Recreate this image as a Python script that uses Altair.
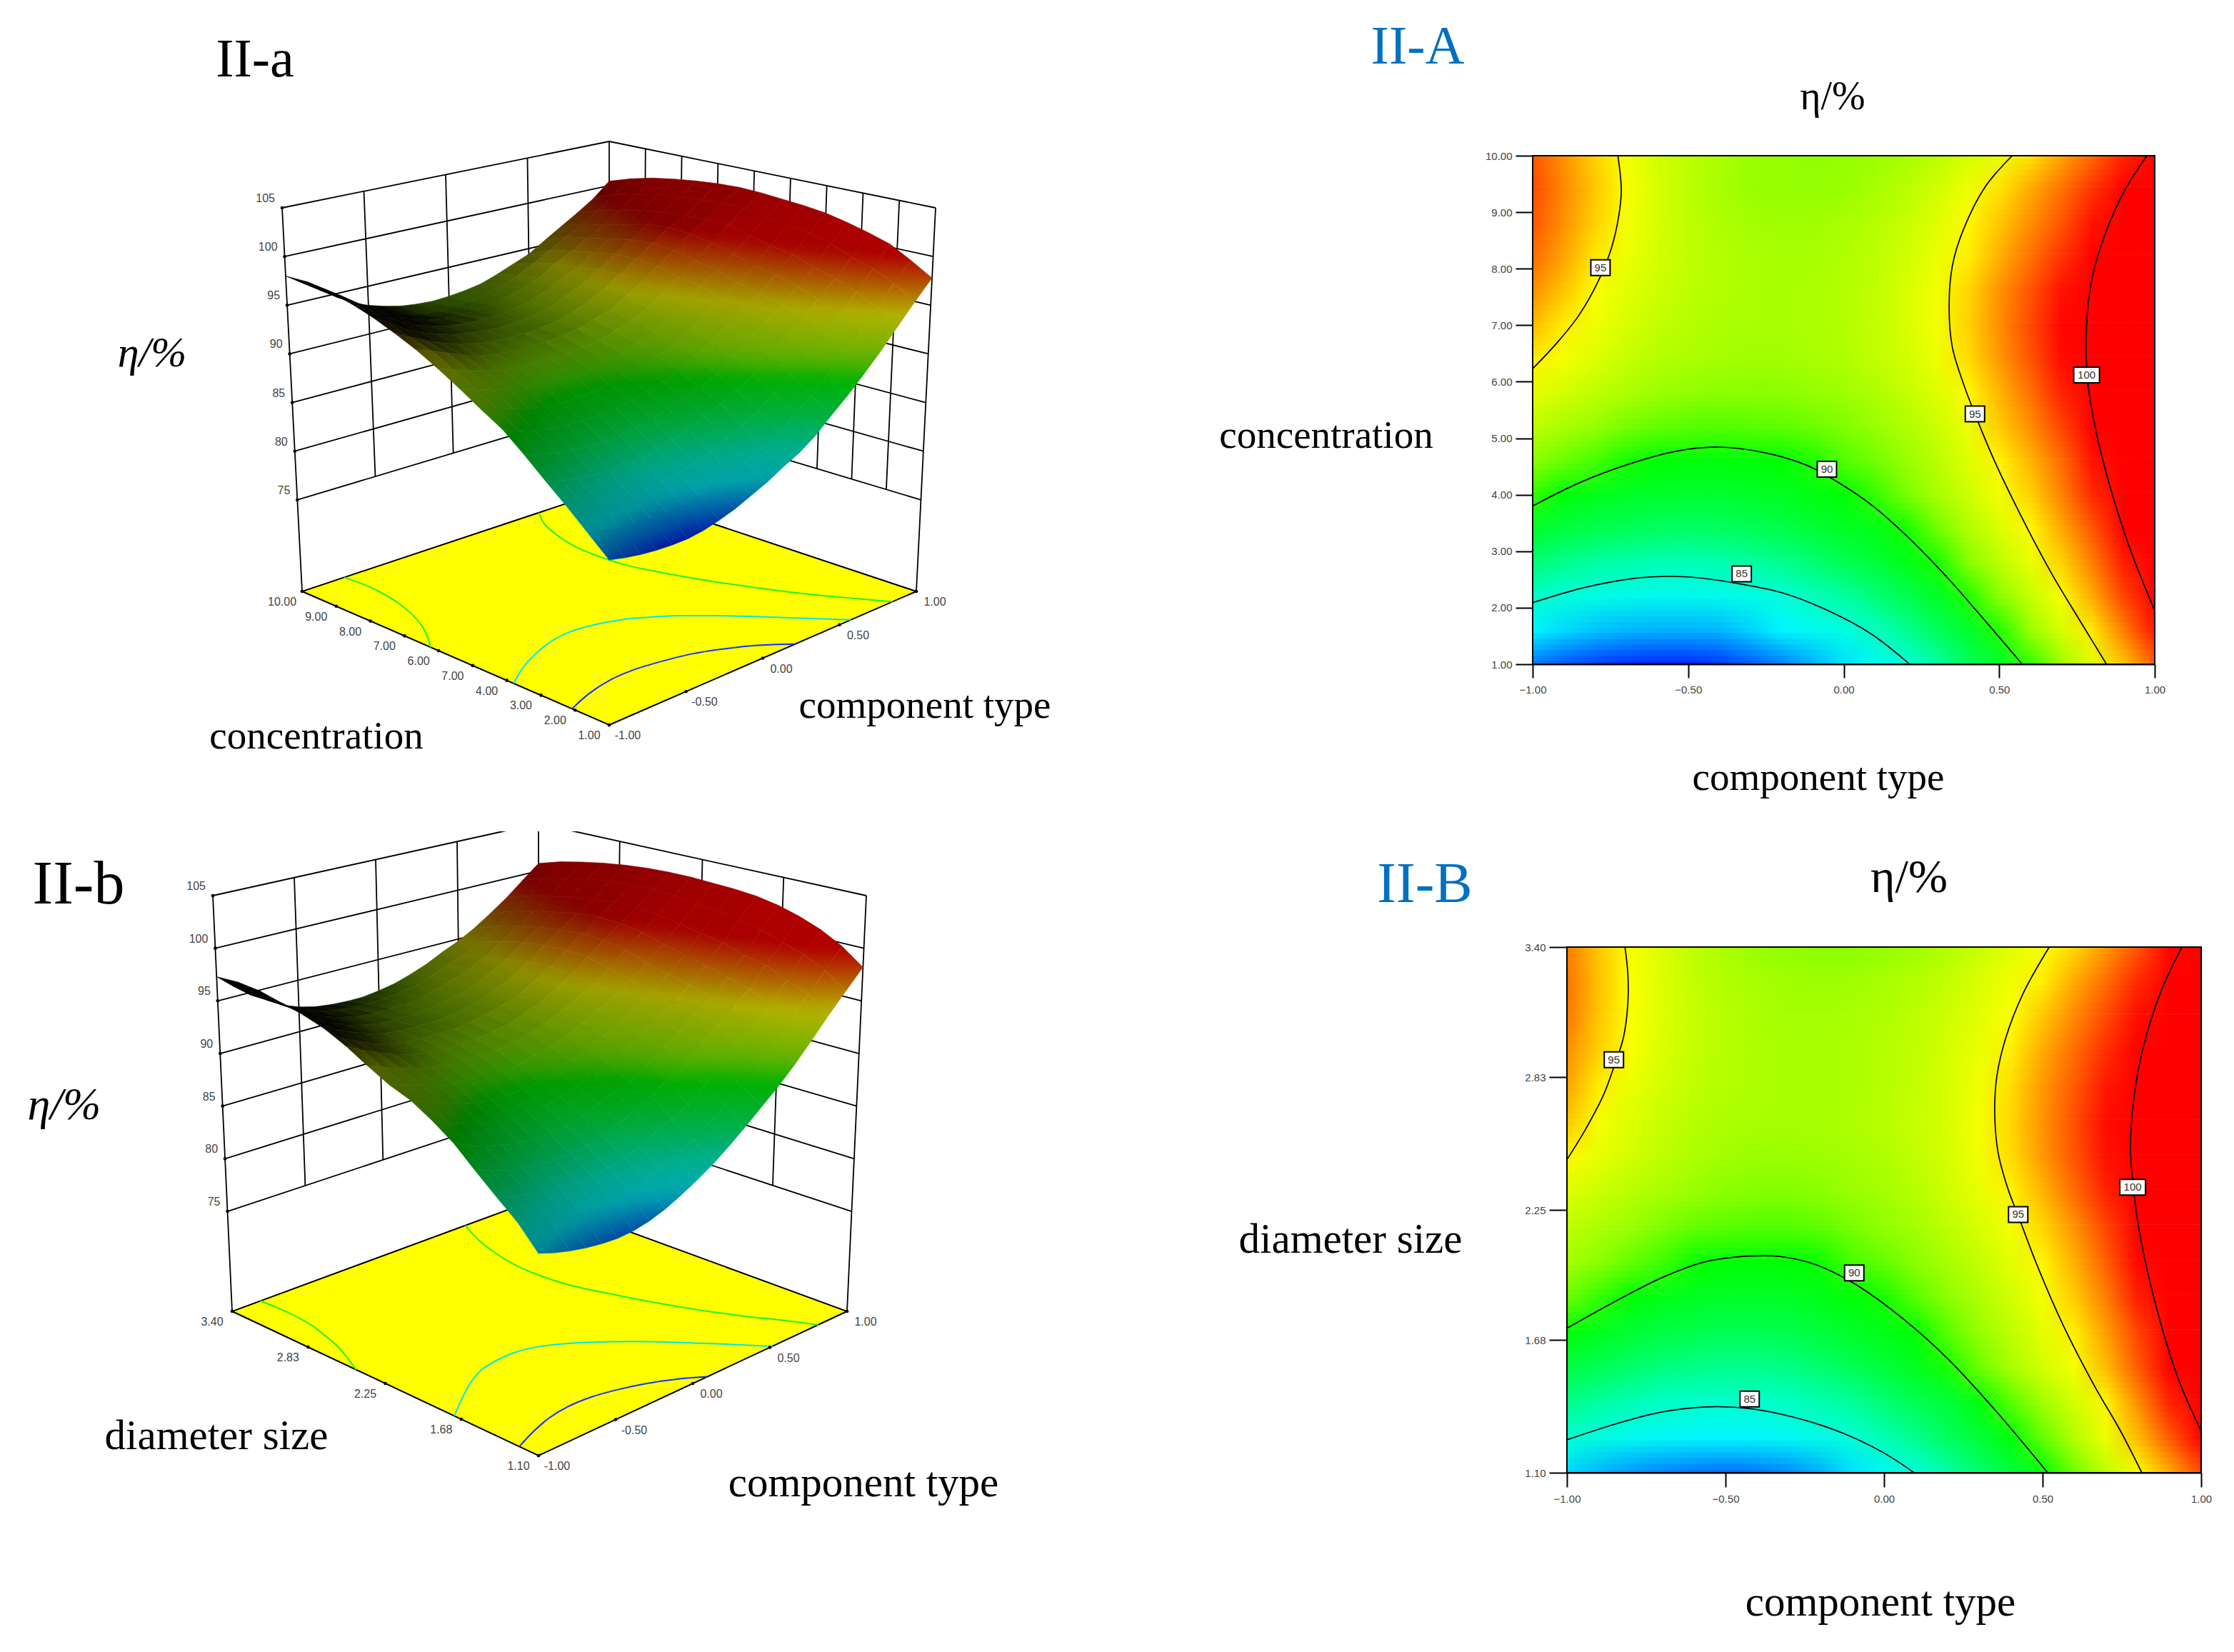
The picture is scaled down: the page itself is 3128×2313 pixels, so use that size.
import altair as alt
import numpy as np
import pandas as pd

W, H = 3112, 2297
SERIF = "Liberation Serif"
SANS = "Liberation Sans"

X_VALUES = [round(-1 + 0.1 * i, 1) for i in range(21)]

ETA_A = [
 [81.7,81.3,81.0,80.8,80.7,80.7,80.9,81.3,81.8,82.5,83.2,84.1,84.9,86.0,87.5,88.9,90.5,92.2,94.1,96.0,97.8],
 [83.5,83.1,82.8,82.6,82.5,82.5,82.6,83.0,83.5,84.1,84.5,85.4,86.4,87.5,88.8,90.3,92.0,93.7,95.4,97.3,99.1],
 [85.3,84.9,84.5,84.3,84.1,84.1,84.2,84.5,84.9,85.5,86.1,86.9,87.8,89.0,90.3,91.7,93.2,94.8,96.5,98.3,100.3],
 [87.0,86.5,86.1,85.9,85.7,85.7,85.8,86.1,86.5,87.0,87.7,88.4,89.3,90.2,91.6,92.9,94.3,95.8,97.3,99.0,101.0],
 [88.8,88.3,87.9,87.6,87.4,87.3,87.4,87.6,88.0,88.5,89.0,89.4,90.2,91.3,92.6,93.9,95.1,96.5,98.0,99.9,101.6],
 [90.5,89.8,89.3,89.0,88.8,88.7,88.7,88.9,89.1,89.5,89.9,90.5,91.4,92.4,93.5,94.6,95.8,97.2,98.8,100.5,102.1],
 [91.7,91.2,90.7,90.2,89.9,89.7,89.7,89.8,90.0,90.3,90.8,91.3,92.0,92.9,94.0,95.2,96.3,97.6,99.2,100.9,102.4],
 [93.0,92.4,91.9,91.4,91.1,90.9,90.8,90.9,91.0,91.2,91.5,92.0,92.6,93.4,94.5,95.9,97.0,98.3,99.7,101.2,102.6],
 [94.2,93.6,93.0,92.5,92.1,91.8,91.7,91.7,91.7,91.9,92.1,92.6,93.2,94.0,95.1,96.3,97.5,98.9,100.3,101.6,102.8],
 [95.3,94.7,94.0,93.3,92.8,92.5,92.3,92.2,92.2,92.4,92.6,93.1,93.6,94.5,95.6,96.8,98.0,99.3,100.4,101.7,102.9],
 [96.2,95.3,94.5,93.8,93.2,92.8,92.5,92.4,92.4,92.5,92.7,93.2,93.8,94.7,95.8,97.0,98.2,99.4,100.2,101.5,102.8],
 [97.0,96.0,94.9,94.1,93.5,93.0,92.7,92.5,92.4,92.5,92.7,93.1,93.8,94.6,95.7,96.9,98.0,99.2,100.1,101.3,102.6],
 [97.6,96.6,95.4,94.5,93.7,93.1,92.7,92.5,92.4,92.4,92.6,93.0,93.6,94.4,95.3,96.4,97.5,98.6,99.7,101.0,102.3],
 [98.0,96.9,95.8,94.7,93.8,93.1,92.6,92.3,92.2,92.2,92.4,92.8,93.3,94.0,95.1,96.0,97.0,98.0,99.2,100.5,101.9],
 [98.2,97.1,96.0,94.8,93.8,93.0,92.4,92.0,91.9,91.9,92.0,92.4,92.9,93.6,94.5,95.5,96.5,97.5,98.6,100.0,101.3],
 [98.0,96.9,95.8,94.7,93.7,93.0,92.5,92.1,91.9,91.8,91.9,92.1,92.4,93.0,93.7,94.4,95.5,96.6,97.7,98.9,100.5],
]
ETA_B = [
 [83.1,82.6,82.2,81.9,81.7,81.6,81.7,82.0,82.5,83.2,84.0,84.9,86.0,87.2,88.5,89.8,91.3,93.0,94.8,96.5,98.2],
 [85.1,84.6,84.1,83.8,83.6,83.5,83.6,83.9,84.4,85.0,85.7,86.5,87.4,88.5,89.7,91.1,92.7,94.4,96.2,97.9,99.7],
 [86.6,86.1,85.7,85.4,85.2,85.2,85.2,85.4,85.8,86.2,87.0,87.7,88.5,89.7,90.9,92.2,93.6,95.2,97.0,98.9,100.8],
 [88.2,87.7,87.2,86.8,86.6,86.5,86.5,86.7,87.1,87.7,88.4,89.2,90.2,91.2,92.4,93.6,94.7,96.2,97.9,99.6,101.6],
 [89.9,89.2,88.6,88.2,87.9,87.7,87.7,87.9,88.3,88.9,89.4,89.9,90.9,91.9,93.0,94.2,95.3,96.7,98.3,100.3,102.2],
 [91.2,90.5,89.9,89.4,89.1,88.9,88.9,89.0,89.4,89.8,90.2,90.9,91.7,92.6,93.6,94.7,95.9,97.3,99.0,100.8,102.6],
 [92.3,91.7,91.1,90.6,90.1,89.9,89.8,89.9,90.1,90.7,91.1,91.7,92.4,93.2,94.2,95.2,96.4,97.8,99.4,101.1,102.8],
 [93.0,92.5,92.0,91.5,91.1,90.9,90.8,90.8,91.0,91.4,91.8,92.3,93.0,93.8,94.7,95.7,96.9,98.3,99.8,101.3,102.9],
 [94.0,93.4,92.9,92.4,92.0,91.7,91.6,91.6,91.7,92.0,92.3,92.8,93.5,94.3,95.2,96.3,97.6,98.9,100.2,101.6,103.0],
 [95.1,94.3,93.6,93.0,92.5,92.2,92.0,92.0,92.1,92.3,92.6,93.1,93.7,94.6,95.6,96.8,98.0,99.2,100.3,101.7,103.0],
 [96.0,94.7,94.0,93.3,92.8,92.5,92.4,92.4,92.4,92.6,92.9,93.3,93.8,94.7,95.7,96.9,98.1,99.3,100.4,101.7,102.9],
 [96.6,95.3,94.4,93.7,93.1,92.7,92.5,92.4,92.4,92.5,92.8,93.2,93.8,94.6,95.6,96.8,97.9,99.1,100.0,101.5,102.7],
 [97.0,95.8,94.8,93.9,93.2,92.8,92.5,92.4,92.4,92.5,92.8,93.1,93.7,94.4,95.3,96.5,97.6,98.7,99.8,101.2,102.4],
 [97.4,96.0,94.9,94.0,93.3,92.8,92.5,92.3,92.3,92.4,92.6,93.0,93.5,94.1,94.9,96.0,97.1,98.2,99.3,100.7,102.0],
 [97.5,96.1,94.9,94.0,93.2,92.7,92.4,92.2,92.1,92.2,92.4,92.7,93.2,93.9,94.5,95.3,96.5,97.6,98.8,100.2,101.5],
 [97.3,96.0,94.8,93.9,93.0,92.4,92.0,91.8,91.7,91.7,91.9,92.2,92.7,93.3,94.1,94.8,95.7,96.8,98.0,99.4,100.8],
]
Y_A = [round(1 + 0.6 * i, 3) for i in range(16)]
Y_B = [round(1.1 + 2.3 * i / 15, 3) for i in range(16)]

# contour lines, (component type, factor) pairs
CONT_A = {
 "85": [(-1,2.09),(-.824,2.37),(-.656,2.53),(-.501,2.545),(-.332,2.42),(-.192,2.255),(-.051,1.95),(.089,1.534),(.212,1)],
 "90": [(-1,3.8),(-.852,4.206),(-.698,4.528),(-.543,4.766),(-.403,4.843),(-.262,4.753),(-.122,4.528),(-.024,4.238),(.089,3.82),(.202,3.273),(.328,2.564),(.441,1.856),(.574,1)],
 "95a": [(-1,6.23),(-.923,6.68),(-.852,7.17),(-.789,7.78),(-.747,8.36),(-.723,8.94),(-.715,9.39),(-.726,10)],
 "95b": [(.542,10),(.455,9.45),(.384,8.68),(.349,8.04),(.339,7.33),(.349,6.62),(.384,5.98),(.424,5.4),(.483,4.62),(.567,3.66),(.666,2.63),(.764,1.73),(.845,1)],
 "100": [(.975,10),(.904,9.39),(.841,8.62),(.799,7.84),(.781,7.01),(.785,5.98),(.813,5.08),(.855,4.17),(.918,3.08),(1,1.95)],
}
CONT_B = {
 "85": [(-1,1.244),(-.843,1.315),(-.703,1.365),(-.564,1.388),(-.424,1.381),(-.285,1.343),(-.146,1.282),(-.006,1.191),(.095,1.1)],
 "90": [(-1,1.732),(-.843,1.853),(-.703,1.952),(-.564,2.023),(-.424,2.048),(-.327,2.046),(-.215,2.01),(-.09,1.924),(.063,1.77),(.203,1.596),(.356,1.365),(.516,1.1)],
 "95a": [(-1,2.47),(-.94,2.606),(-.884,2.755),(-.849,2.887),(-.822,3.003),(-.808,3.152),(-.808,3.284),(-.817,3.4)],
 "95b": [(.521,3.4),(.44,3.201),(.384,3.003),(.356,2.837),(.349,2.688),(.359,2.506),(.391,2.341),(.423,2.225),(.482,2.01),(.565,1.745),(.663,1.481),(.746,1.282),(.813,1.1)],
 "100": [(.939,3.4),(.872,3.201),(.816,2.953),(.788,2.738),(.777,2.523),(.788,2.325),(.809,2.126),(.858,1.828),(.927,1.514),(1,1.282)],
}
LABELS_A = [("95",-.782,8.02),("95",.422,5.43),("100",.781,6.12),("90",-.054,4.45),("85",-.328,2.60)]
LABELS_B = [("95",-.852,2.907),("95",.423,2.23),("100",.784,2.349),("90",-.094,1.974),("85",-.424,1.423)]

X_TICKS = [-1, -.5, 0, .5, 1]
X_TEXT = ["-1.00", "-0.50", "0.00", "0.50", "1.00"]
Y_TICKS_A = [1, 2, 3, 4, 5, 6, 7, 8, 9, 10]
Y_TEXT_A = ["1.00", "2.00", "3.00", "4.00", "7.00", "6.00", "7.00", "8.00", "9.00", "10.00"]
Y_TICKS_B = [1.1, 1.68, 2.25, 2.83, 3.4]
Y_TEXT_B = ["1.10", "1.68", "2.25", "2.83", "3.40"]
Z_TICKS = [75, 80, 85, 90, 95, 100, 105]

RAMP = [(80, (0, 0, 255)), (80.7, (0, 40, 255)), (81.7, (0, 120, 255)), (83.5, (0, 245, 255)),
        (85, (0, 255, 215)), (87.5, (0, 255, 90)), (90, (0, 255, 0)), (90.8, (80, 255, 0)),
        (91.8, (145, 255, 0)), (92.5, (172, 255, 0)), (95, (255, 255, 0)), (99.5, (255, 0, 0))]


def rgb(v):
    v = min(max(v, 80), 99.5)
    for (a, ca), (b, cb) in zip(RAMP, RAMP[1:]):
        if v <= b:
            t = (v - a) / (b - a)
            return tuple(ca[k] + t * (cb[k] - ca[k]) for k in range(3))
    return RAMP[-1][1]


def hexc(c, f=1.0):
    return "#%02x%02x%02x" % tuple(int(round(x * f)) for x in c)


def pix_scale_x():
    return alt.Scale(domain=[0, 3128], range=[-8, 3120], nice=False, zero=False)


def pix_scale_y():
    return alt.Scale(domain=[0, 2313], range=[-8, 2305], nice=False, zero=False)


def pxx(field, **kw):
    return alt.X(field, scale=pix_scale_x(), axis=None, **kw)


def pxy(field, **kw):
    return alt.Y(field, scale=pix_scale_y(), axis=None, **kw)


# ---------- 2-D maps ----------
def heat_panel(eta, ys, conts, labels, box, yticks, xtick, ytick):
    L, R, T, B = box
    ymin, ymax = ys[0], ys[-1]
    sx = lambda: alt.Scale(domain=[-1, 1], range=[L - 8, R - 8], nice=False, zero=False)
    sy = lambda: alt.Scale(domain=[ymin, ymax], range=[B - 8, T - 8], nice=False, zero=False)
    h = ys[1] - ys[0]
    layers = []
    PASSES = 6
    for k in range(PASSES):
        shift = h * ((k + 0.5) / PASSES - 0.5)
        rows = []
        for yv, row in zip(ys, eta):
            grad = {"gradient": "linear", "x1": 0, "y1": 0, "x2": 1, "y2": 0,
                    "stops": [{"offset": i / 20, "color": hexc(rgb(v))} for i, v in enumerate(row)]}
            rows.append({"a": -1, "b": 1, "c": max(ymin, yv + shift - h / 2),
                         "d": min(ymax, yv + shift + h / 2), "g": grad})
        layers.append(alt.Chart(alt.Data(values=rows)).mark_rect(opacity=1 / (k + 1)).encode(
            x=alt.X("a:Q", scale=sx(), axis=None), x2="b:Q",
            y=alt.Y("c:Q", scale=sy(), axis=None), y2="d:Q",
            fill=alt.Fill("g:N", scale=None, legend=None)))
    # axes + frame
    frame = pd.DataFrame({"a": [-1], "b": [1], "c": [ymin], "d": [ymax]})
    ax_x = alt.Axis(values=X_TICKS, format=".2f", title=None, grid=False, orient="bottom",
                    offset=(B - 8) - H, tickSize=xtick, tickWidth=2, tickColor="black", domainColor="black",
                    domainWidth=2, labelFont=SANS, labelFontSize=15, labelColor="#444444", labelPadding=9,
                    labelOverlap=False, labelFlush=False)
    ax_y = alt.Axis(values=yticks, format=".2f", title=None, grid=False, orient="left",
                    offset=-(L - 8), tickSize=ytick, tickWidth=2, tickColor="black", domainColor="black",
                    domainWidth=2, labelFont=SANS, labelFontSize=15, labelColor="#444444", labelPadding=5,
                    labelOverlap=False, labelFlush=False)
    layers.append(alt.Chart(frame).mark_rect(fillOpacity=0, stroke="black", strokeWidth=2).encode(
        x=alt.X("a:Q", scale=sx(), axis=ax_x), x2="b:Q",
        y=alt.Y("c:Q", scale=sy(), axis=ax_y), y2="d:Q"))
    # contours
    recs = []
    for name, pts in conts.items():
        for i, (a, b) in enumerate(pts):
            recs.append({"n": name, "i": i, "a": a, "b": b})
    layers.append(alt.Chart(pd.DataFrame(recs)).mark_line(
        color="black", strokeWidth=1.7, interpolate="catmull-rom").encode(
        x=alt.X("a:Q", scale=sx(), axis=None), y=alt.Y("b:Q", scale=sy(), axis=None),
        detail="n:N", order="i:Q"))
    # boxes
    for txt, a, b in labels:
        df = pd.DataFrame({"t": [txt], "a": [a], "b": [b]})
        layers.append(alt.Chart(df).mark_rect(
            width=36 if len(txt) == 3 else 27, height=22, fill="white", stroke="black", strokeWidth=2).encode(
            x=alt.X("a:Q", scale=sx(), axis=None), y=alt.Y("b:Q", scale=sy(), axis=None)))
        layers.append(alt.Chart(df).mark_text(font=SANS, fontSize=15, color="#333333", baseline="middle").encode(
            x=alt.X("a:Q", scale=sx(), axis=None), y=alt.Y("b:Q", scale=sy(), axis=None), text="t:N"))
    return layers


# ---------- 3-D views ----------
def surface_panel(eta, ys, conts, floor_c, top_c, z0, yticks, ytext, clip=None):
    ymin, ymax = ys[0], ys[-1]
    corners_f = {k: np.array(v, float) for k, v in floor_c.items()}
    corners_t = {k: np.array(v, float) for k, v in top_c.items()}

    def plane(c, s, t):
        # s: component type 0..1, t: factor 0..1
        return ((1 - s) * (1 - t) * c["front"] + s * (1 - t) * c["right"]
                + (1 - s) * t * c["left"] + s * t * c["back"])

    def pr(x, y, z):
        s, t = (x + 1) / 2, (y - ymin) / (ymax - ymin)
        f = (z - z0) / (105 - z0)
        q = (1 - f) * plane(corners_f, s, t) + f * plane(corners_t, s, t)
        return float(q[0]), float(q[1])

    layers = []
    seg = []

    def add(a, b):
        (x0, y0), (x1, y1) = pr(*a), pr(*b)
        seg.append({"a": x0, "b": y0, "c": x1, "d": y1})

    for z in Z_TICKS:
        add((-1, ymax, z), (1, ymax, z))
        add((1, ymax, z), (1, ymin, z))
    for x in (-.5, 0, .5):
        add((x, ymax, 75), (x, ymax, 105))
    for y in yticks[1:-1]:
        add((1, y, 75), (1, y, 105))
    add((-1, ymax, z0), (-1, ymax, 105))
    add((1, ymax, z0), (1, ymax, 105))
    add((1, ymin, z0), (1, ymin, 105))
    layers.append(alt.Chart(pd.DataFrame(seg)).mark_rule(color="black", strokeWidth=1.8).encode(
        x=pxx("a:Q"), y=pxy("b:Q"), x2="c:Q", y2="d:Q"))
    # floor
    tr = [-8, -8]
    fl = [pr(-1, ymin, z0), pr(1, ymin, z0), pr(1, ymax, z0), pr(-1, ymax, z0)]
    ring = [[float(a), float(b)] for a, b in fl + fl[:1]]
    floor = [{"type": "Feature", "properties": {}, "geometry": {"type": "Polygon", "coordinates": [ring]}}]
    layers.append(alt.Chart(alt.Data(values=floor)).mark_geoshape(
        fill="#ffff00", stroke="black", strokeWidth=2).project(type="identity", scale=1, translate=tr))
    # floor contours
    recs = []
    for name, pts in conts.items():
        if name == "100":
            continue
        col = {"85": "#1030ff", "90": "#00e6e6"}.get(name, "#20f020")
        for i, (a, b) in enumerate(pts):
            u, v = pr(a, b, z0)
            recs.append({"n": name, "i": i, "a": u, "b": v, "k": col})
    layers.append(alt.Chart(pd.DataFrame(recs)).mark_line(strokeWidth=2, interpolate="catmull-rom").encode(
        x=pxx("a:Q"), y=pxy("b:Q"), detail="n:N", order="i:Q", color=alt.Color("k:N", scale=None)))
    # surface, farthest cell first
    arr = np.array(eta)
    KX, KY, LW = 85 / 20, 85 / 15, 1.3
    P = np.array([[pr(X_VALUES[i], ys[j], arr[j, i]) for i in range(21)] for j in range(16)])
    lit_cell = np.zeros((15, 20))
    for j in range(15):
        for i in range(20):
            a, b, c, d = P[j, i], P[j, i + 1], P[j + 1, i + 1], P[j + 1, i]
            d1, d2 = c - a, d - b
            area = 0.5 * abs(d1[0] * d2[1] - d1[1] * d2[0]) + 1e-6
            ex = 0.5 * (np.linalg.norm(b - a) + np.linalg.norm(c - d)) + 1e-6
            ey = 0.5 * (np.linalg.norm(d - a) + np.linalg.norm(c - b)) + 1e-6
            c1 = min(1.0, LW / ((area / ex) / KY))
            c2 = min(1.0, LW / ((area / ey) / KX))
            lit_cell[j, i] = (1 - c1) * (1 - c2)
    lit_v = np.zeros((16, 21))
    for j in range(16):
        for i in range(21):
            jj = [q for q in (j - 1, j) if 0 <= q < 15]
            ii = [q for q in (i - 1, i) if 0 <= q < 20]
            lit_v[j, i] = np.mean([lit_cell[q, r] for q in jj for r in ii])
    feats = []
    cells = sorted(((j, i) for j in range(15) for i in range(20)), key=lambda c: -(c[0] / 15 + c[1] / 20))
    for j, i in cells:
        idx = [(j, i), (j, i + 1), (j + 1, i + 1), (j + 1, i)]
        q = np.array([P[a, b] for a, b in idx])
        vals = np.array([arr[a, b] for a, b in idx])
        lits = np.array([lit_v[a, b] for a, b in idx])
        b0 = q.min(axis=0)
        bs = np.maximum(q.max(axis=0) - b0, 1e-3)
        qn = (q - b0) / bs
        M = np.column_stack([qn, np.ones(4)])
        coef = np.linalg.lstsq(M, vals, rcond=None)[0]
        g = coef[:2]
        norm = float(np.linalg.norm(g))
        ghat = g / norm if norm > 1e-9 else np.array([1.0, 0.0])
        cen = qn.mean(axis=0)
        t = (qn - cen) @ ghat
        t0, t1 = float(t.min()), float(t.max())
        vcoef = np.polyfit(t, vals, 1) if t1 - t0 > 1e-9 else np.array([0.0, vals.mean()])
        lcoef = np.polyfit(t, lits, 1) if t1 - t0 > 1e-9 else np.array([0.0, lits.mean()])
        stops = []
        for f in (0, .25, .5, .75, 1):
            tt = t0 + f * (t1 - t0)
            v = float(np.polyval(vcoef, tt))
            l = float(np.clip(np.polyval(lcoef, tt), 0, 1))
            stops.append({"offset": f, "color": hexc(rgb(v), l)})
        p0, p1 = cen + ghat * t0, cen + ghat * t1
        grad = {"gradient": "linear", "x1": float(p0[0]), "y1": float(p0[1]),
                "x2": float(p1[0]), "y2": float(p1[1]), "stops": stops}
        edge = hexc(rgb(float(vals.mean())), float(lits.mean()))
        ring = [[float(a), float(b)] for a, b in list(q) + [q[0]]]
        feats.append({"type": "Feature", "properties": {"g": grad, "e": edge},
                      "geometry": {"type": "Polygon", "coordinates": [ring]}})
    layers.append(alt.Chart(alt.Data(values=feats)).mark_geoshape(strokeWidth=0.6).encode(
        fill=alt.Fill("properties.g:N", scale=None, legend=None),
        stroke=alt.Stroke("properties.e:N", scale=None, legend=None)
    ).project(type="identity", scale=1, translate=tr))
    if clip is not None:
        df = pd.DataFrame([{"a": clip[0], "b": clip[1], "c": clip[2], "d": clip[3]}])
        layers.append(alt.Chart(df).mark_rect(fill="white").encode(
            x=pxx("a:Q"), y=pxy("c:Q"), x2="b:Q", y2="d:Q"))
    # tick dots and labels
    dots, txt_l, txt_r, txt_z = [], [], [], []
    for x, t in zip(X_TICKS, X_TEXT):
        u, v = pr(x, ymin, z0)
        dots.append({"a": u, "b": v})
        txt_r.append({"a": u + 26, "b": v + 15, "t": t})
    for y, t in zip(yticks, ytext):
        u, v = pr(-1, y, z0)
        dots.append({"a": u, "b": v})
        txt_l.append({"a": u - 28, "b": v + 15, "t": t})
    for z in Z_TICKS:
        u, v = pr(-1, ymax, z)
        dots.append({"a": u, "b": v})
        txt_z.append({"a": u - 10, "b": v - 13, "t": str(z)})
    layers.append(alt.Chart(pd.DataFrame(dots)).mark_circle(color="black", size=22, opacity=1).encode(
        x=pxx("a:Q"), y=pxy("b:Q")))
    for rows, al in ((txt_l, "center"), (txt_r, "center"), (txt_z, "right")):
        layers.append(alt.Chart(pd.DataFrame(rows)).mark_text(
            font=SANS, fontSize=16, color="#444444", align=al, baseline="middle").encode(
            x=pxx("a:Q"), y=pxy("b:Q"), text="t:N"))
    return layers


# ---------- free text ----------
BLUE = "#0070c0"
NOTES = [
 ("II-a", 357, 84, 76, "black", "normal"), ("II-A", 1985, 66, 76, BLUE, "normal"),
 ("\u03b7/%", 2566, 136, 56, "black", "normal"), ("\u03b7/%", 213, 495, 60, "black", "italic"),
 ("II-b", 110, 1239, 86, "black", "normal"), ("II-B", 1995, 1239, 80, BLUE, "normal"),
 ("\u03b7/%", 2673, 1229, 66, "black", "normal"), ("\u03b7/%", 90, 1548, 64, "black", "italic"),
 ("concentration", 443, 1031, 55, "black", "normal"), ("component type", 1295, 988, 55, "black", "normal"),
 ("concentration", 1857, 610, 55, "black", "normal"), ("component type", 2546, 1089, 55, "black", "normal"),
 ("diameter size", 303, 2011, 59, "black", "normal"), ("component type", 1209, 2077, 59, "black", "normal"),
 ("diameter size", 1891, 1736, 59, "black", "normal"), ("component type", 2633, 2244, 59, "black", "normal"),
]
note_layers = []
for t, a, b, s, c, st in NOTES:
    df = pd.DataFrame({"a": [a], "b": [b], "t": [t]})
    note_layers.append(alt.Chart(df).mark_text(
        font=SERIF, fontSize=s, color=c, fontStyle=st, baseline="middle").encode(
        x=pxx("a:Q"), y=pxy("b:Q"), text="t:N"))

layers = []
layers += surface_panel(ETA_A, Y_A, CONT_A,
                        {"front": (853, 1015), "left": (423, 828), "right": (1283, 828), "back": (853, 685)},
                        {"front": (853, 450), "left": (395, 291), "right": (1310, 291), "back": (853, 198)},
                        65.6, Y_TICKS_A, Y_TEXT_A)
layers += surface_panel(ETA_B, Y_B, CONT_B,
                        {"front": (754, 2038), "left": (325, 1836), "right": (1186, 1836), "back": (754, 1678)},
                        {"front": (754, 1403), "left": (298, 1254), "right": (1213, 1254), "back": (754, 1153)},
                        65.5, Y_TICKS_B, Y_TEXT_B, clip=(480, 1040, 1120, 1164))
layers += heat_panel(ETA_A, Y_A, CONT_A, LABELS_A, (2146, 3017, 218, 930), Y_TICKS_A, 19, 24)
layers += heat_panel(ETA_B, Y_B, CONT_B, LABELS_B, (2194, 3082, 1326, 2062), Y_TICKS_B, 20, 25)
layers += note_layers

chart = alt.layer(*layers).resolve_scale(x="independent", y="independent").resolve_axis(
    x="independent", y="independent").properties(
    width=W, height=H, padding=0, autosize=alt.AutoSizeParams(type="none"),
    background="white").configure_view(stroke=None)

chart.save("out.html", embed_options={"renderer": "svg", "actions": False})
